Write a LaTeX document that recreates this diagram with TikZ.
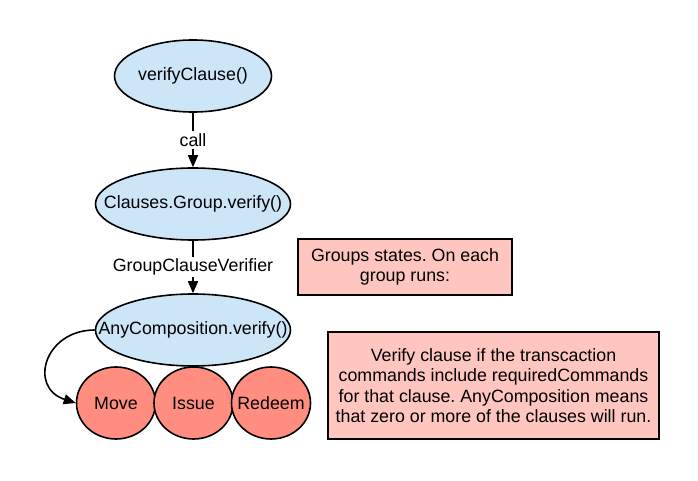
\documentclass[tikz,border=0pt]{standalone}
\usepackage{fontspec}
\setmainfont{Liberation Sans}
\usepackage{xcolor}
\usetikzlibrary{shapes.geometric,arrows.meta}

\definecolor{callblue}{HTML}{CCE5F7}
\definecolor{clausered}{HTML}{FF8E80}
\definecolor{notepink}{HTML}{FFC6C0}
\newcommand{\nowidth}[1]{\makebox[0pt]{#1}}
\frenchspacing

\begin{document}
\begin{tikzpicture}[x=1pt,y=1pt,
  font=\fontsize{17.8}{20.5}\selectfont,
  call/.style={ellipse, draw, line width=1.6pt, fill=callblue, inner sep=0pt, minimum width=#1, minimum height=72pt},
  clause/.style={ellipse, draw, line width=1.6pt, fill=clausered, inner sep=0pt, minimum width=79pt, minimum height=72pt},
  note/.style={rectangle, draw, line width=1.6pt, fill=notepink, align=center, inner sep=0pt},
  link/.style={line width=1.6pt, -{Triangle[length=12pt,width=10pt]}}]
\useasboundingbox (0,0) rectangle (698,480);
\node[call=157pt] (verify) at (193,404) {\nowidth{verifyClause()}};
\node[call=195pt] (group) at (193,276) {\nowidth{Clauses.Group.verify()}};
\node[call=195pt] (anycomp) at (193,150) {\nowidth{AnyComposition.verify()}};
\node[clause] (move) at (116,77) {\nowidth{Move}};
\node[clause] (issue) at (193.5,77) {\nowidth{Issue}};
\node[clause] (redeem) at (271,77) {\nowidth{Redeem}};
\node[note, minimum width=214pt, minimum height=56pt] (groupnote) at (405,213)
  {Groups states. On each\\group runs:};
\node[note, minimum width=331pt, minimum height=107pt] (clausenote) at (493.5,94.5)
  {Verify clause if the transcaction\\commands include requiredCommands\\for that clause. AnyComposition means\\that zero or more of the clauses will run.};
% calls between the verifiers
\draw[link] (verify) -- node[fill=white, inner sep=2pt] {call} (group);
\draw[link] (group) -- node[fill=white, inner sep=2pt] {GroupClauseVerifier} (anycomp);
\draw[link] (anycomp.west) to[out=180, in=162, looseness=1.7] (move.west);
\end{tikzpicture}
\end{document}
